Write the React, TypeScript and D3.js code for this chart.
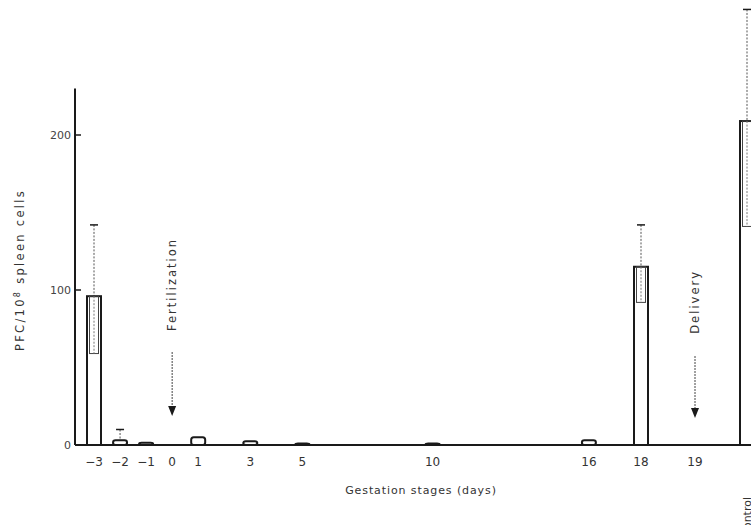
import * as d3 from "d3";

// gestation stage categories (position on the day axis; control sits after delivery)
const stageLabels = ["-3", "-2", "-1", "0", "1", "3", "5", "10", "16", "18", "19", "control"];
const stagePos = [-3, -2, -1, 0, 1, 3, 5, 10, 16, 18, 19, 20];
// PFC per 10^8 spleen cells (null = no bar)
const meanPFC = [96, 3, 1.5, null, 5, 2.5, 1, 1, 3, 115, null, 209];
const upperErr = [142, 10, null, null, null, null, null, null, null, 142, null, 281];
const lowerErr = [59, null, null, null, null, null, null, null, null, 92, null, 141];
const yTicks = [0, 100, 200];

const W = 751;
const H = 525;
const INK = "#1a1a1a";
const FONT = "'DejaVu Sans', 'Noto Sans', sans-serif";

export default function App() {
  const x = d3.scaleLinear().domain([-3, 18, 19, 20]).range([94, 641, 695, 747]);
  const y = d3.scaleLinear().domain([0, 200]).range([445, 135]);
  const barW = 14;
  const axisX = 75;

  const bars = stageLabels
    .map((lab, i) => ({ lab, pos: stagePos[i], v: meanPFC[i], hi: upperErr[i], lo: lowerErr[i] }))
    .filter((d) => d.v !== null);

  return (
    <svg width={W} height={H} style={{ position: "absolute", left: 0, top: 0, background: "#fff" }}>
      {/* y axis */}
      <line x1={axisX} x2={axisX} y1={y(230)} y2={y(0)} stroke={INK} strokeWidth={2} />
      {yTicks.map((t) => (
        <g key={t}>
          <line x1={axisX} x2={axisX + 6} y1={y(t)} y2={y(t)} stroke={INK} strokeWidth={1.5} />
          <text x={axisX - 4} y={y(t)} dy="0.35em" textAnchor="end" fontSize={11} fontFamily={FONT} fill="#444">
            {t}
          </text>
        </g>
      ))}
      <text
        transform={`translate(24,${270}) rotate(-90)`}
        textAnchor="middle"
        fontSize={11.5}
        fontFamily={FONT}
        fill="#333"
        letterSpacing={2.3}
      >
        PFC/10<tspan dy={-4} fontSize={8}>8</tspan>
        <tspan dy={4}> spleen cells</tspan>
      </text>

      {/* bars */}
      {bars.map((d) => {
        const cx = x(d.pos);
        const top = y(d.v as number);
        return (
          <g key={d.lab}>
            {d.hi !== null && (
              <g>
                <line x1={cx} x2={cx} y1={y(d.hi)} y2={top} stroke="#555" strokeWidth={1} strokeDasharray="2,1.5" />
                <line x1={cx - 4} x2={cx + 4} y1={y(d.hi)} y2={y(d.hi)} stroke={INK} strokeWidth={1.5} />
              </g>
            )}
            <rect
              x={cx - barW / 2}
              y={top}
              width={barW}
              height={y(0) - top}
              fill="#fff"
              stroke={INK}
              strokeWidth={2}
              rx={(y(0) - top) < 8 ? 2.5 : 0}
            />
            {d.lo !== null && (
              <g>
                <rect
                  x={cx - barW / 2 + 2.5}
                  y={top}
                  width={barW - 5}
                  height={y(d.lo) - top}
                  fill="none"
                  stroke="#444"
                  strokeWidth={1}
                />
                <line x1={cx} x2={cx} y1={top} y2={y(d.lo)} stroke="#777" strokeWidth={1} strokeDasharray="2,1.5" />
              </g>
            )}
          </g>
        );
      })}

      {/* x axis */}
      <line x1={axisX} x2={W} y1={y(0)} y2={y(0)} stroke={INK} strokeWidth={2} />
      {stageLabels
        .map((lab, i) => ({ lab, pos: stagePos[i] }))
        .filter((d) => d.lab !== "control")
        .map((d) => (
          <text key={d.lab} x={x(d.pos)} y={466} textAnchor="middle" fontSize={12} fontFamily={FONT} fill="#333">
            {d.lab.replace("-", "\u2212")}
          </text>
        ))}
      <text
        transform={`translate(${x(20) + 4},497) rotate(-90)`}
        textAnchor="end"
        fontSize={11}
        fontFamily={FONT}
        fill="#333"
      >
        control
      </text>
      <text x={421} y={494} textAnchor="middle" fontSize={11} fontFamily={FONT} fill="#333" letterSpacing={0.9}>
        Gestation stages (days)
      </text>

      {/* event annotations */}
      {[
        { pos: 0, label: "Fertilization", t0: 238, a0: 352, a1: 416 },
        { pos: 19, label: "Delivery", t0: 270, a0: 356, a1: 418 },
      ].map((a) => (
        <g key={a.label}>
          <text
            transform={`translate(${x(a.pos) + 4},${a.t0}) rotate(-90)`}
            textAnchor="end"
            fontSize={11.5}
            fontFamily={FONT}
            fill="#333"
            letterSpacing={2}
          >
            {a.label}
          </text>
          <line x1={x(a.pos)} x2={x(a.pos)} y1={a.a0} y2={a.a1 - 8} stroke="#444" strokeWidth={1} strokeDasharray="2,1" />
          <path
            d={`M${x(a.pos) - 4},${a.a1 - 10} L${x(a.pos) + 4},${a.a1 - 10} L${x(a.pos)},${a.a1} Z`}
            fill={INK}
          />
        </g>
      ))}
    </svg>
  );
}
